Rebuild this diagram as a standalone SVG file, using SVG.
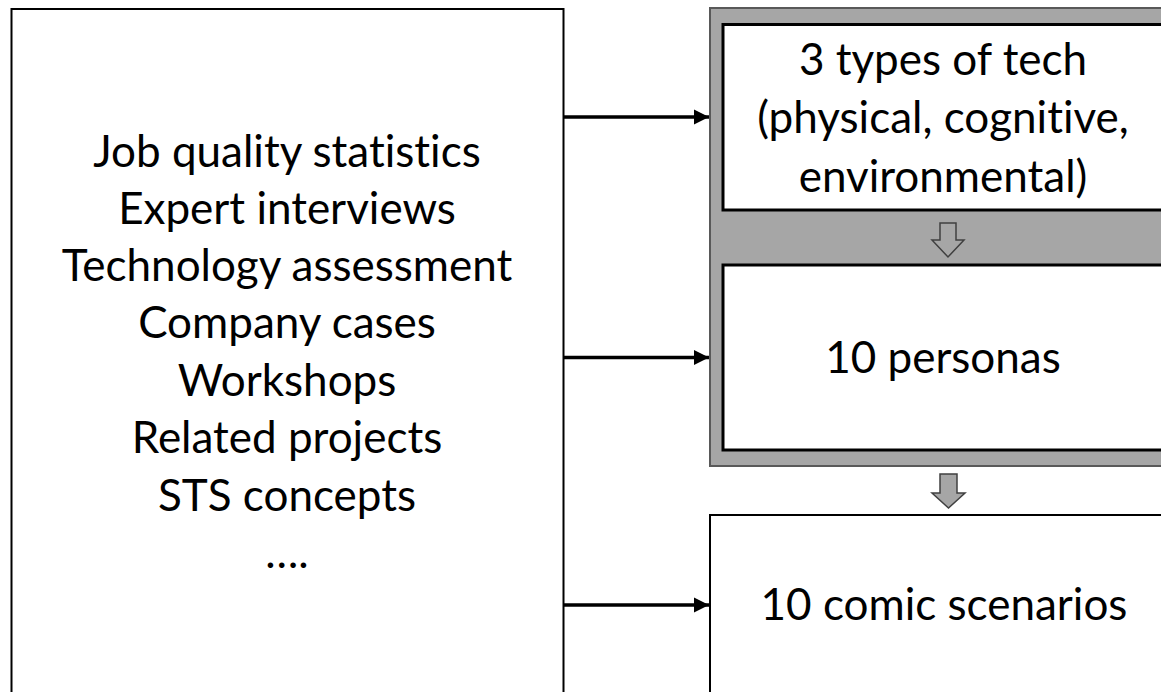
<svg xmlns="http://www.w3.org/2000/svg" width="1161" height="692" viewBox="0 0 1161 692">
  <defs>
    <style>
      .t { font-family: Lato, "Noto Sans", "Liberation Sans", sans-serif; font-size: 44px; fill: #000; text-anchor: middle; font-variant-ligatures: none; font-feature-settings: "liga" 0, "clig" 0; }
      .box { fill: #fff; stroke: #000; stroke-width: 2; }
      .inner { fill: #fff; stroke: #000; stroke-width: 3; }
      .frame { fill: #a6a6a6; stroke: #595959; stroke-width: 2; }
      .conn { stroke: #000; stroke-width: 3.5; fill: none; marker-end: url(#ah); }
      .blk { fill: #a6a6a6; stroke: #404040; stroke-width: 1.5; stroke-linejoin: miter; }
    </style>
    <marker id="ah" viewBox="0 0 10 10" refX="10" refY="5" markerWidth="4.3" markerHeight="4.3" markerUnits="strokeWidth" orient="auto">
      <path d="M0,0 L10,5 L0,10 z" fill="#000"/>
    </marker>
  </defs>

  <g id="sources">
    <rect class="box" x="11.5" y="9" width="552" height="700"/>
    <text class="t" x="287" y="167">Job quality statistics</text>
    <text class="t" x="287" y="224">Expert interviews</text>
    <text class="t" x="287" y="281">Technology assessment</text>
    <text class="t" x="287" y="338">Company cases</text>
    <text class="t" x="287" y="396">Workshops</text>
    <text class="t" x="287" y="453">Related projects</text>
    <text class="t" x="287" y="511">STS concepts</text>
    <text class="t" x="287" y="568">….</text>
  </g>

  <g id="group-frame">
    <rect class="frame" x="710" y="8" width="480" height="458"/>
  </g>

  <g id="tech">
    <rect class="inner" x="723" y="24.5" width="440" height="185.5"/>
    <text class="t" x="943" y="75">3 types of tech</text>
    <text class="t" x="943" y="133">(physical, cognitive,</text>
    <text class="t" x="943" y="192">environmental)</text>
  </g>

  <g id="personas">
    <rect class="inner" x="723" y="265" width="440" height="185"/>
    <text class="t" x="943" y="373">10 personas</text>
  </g>

  <g id="scenarios">
    <rect class="box" x="710" y="515" width="470" height="200"/>
    <text class="t" x="944" y="620">10 comic scenarios</text>
  </g>

  <g id="connectors">
    <line class="conn" x1="564" y1="117" x2="709" y2="117"/>
    <line class="conn" x1="564" y1="357.5" x2="709" y2="357.5"/>
    <line class="conn" x1="564" y1="605" x2="709" y2="605"/>
    <path class="blk" d="M940,223 H956 V240 H964 L948,257 L932,240 H940 Z"/>
    <path class="blk" d="M940,474 H957 V493 H965 L948.5,508 L932,493 H940 Z"/>
  </g>
</svg>
